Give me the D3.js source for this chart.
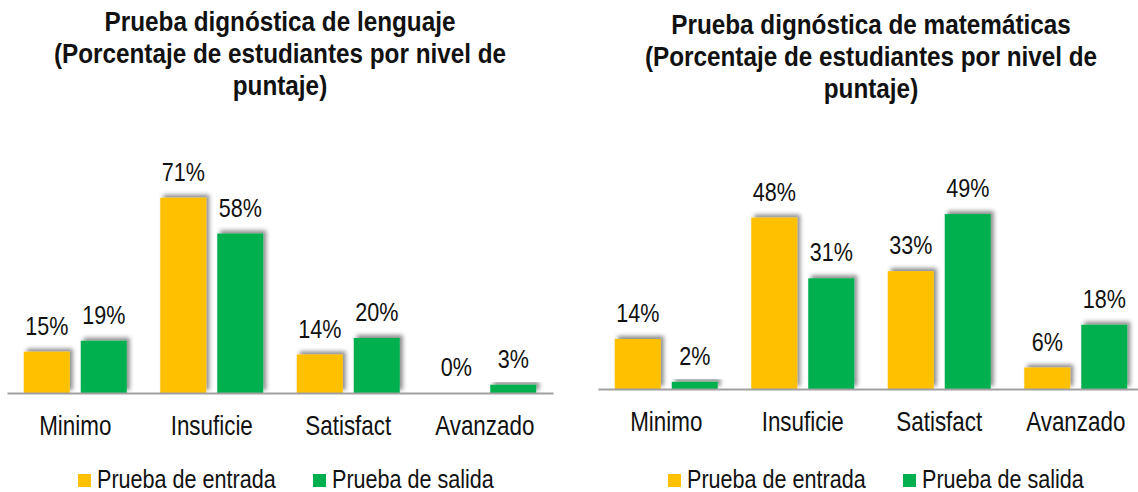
<!DOCTYPE html>
<html>
<head>
<meta charset="UTF-8">
<title>Prueba dignóstica</title>
<script src="https://d3js.org/d3.v7.min.js"></script>
<style>
    body {
        margin: 0;
        background: #fff;
    }
    text {
        font-family: "Liberation Sans", Arial, sans-serif;
        fill: #111;
    }
    .titulo {
        font-weight: bold;
        font-size: 27px;
    }
</style>
</head>
<body>
<svg id="main" width="1138" height="492"></svg>
<script>
    // datos
    var categorias = ["Minimo", "Insuficie", "Satisfact", "Avanzado"];
    var series = ["Prueba de entrada", "Prueba de salida"];
    var lenguajeEntrada = [15, 71, 14, 0];
    var lenguajeSalida = [19, 58, 20, 3];
    var matematicasEntrada = [14, 48, 33, 6];
    var matematicasSalida = [2, 31, 49, 18];
    var colores = ["#FFC000", "#00B050"];

    // la fuente del original es estrecha: se comprime en horizontal
    var estrecho = 0.83;

    var svg = d3.select("#main");

    var defs = svg.append("defs");
    defs.append("filter")
        .attr("id", "sombra")
        .attr("x", "-30%").attr("y", "-30%")
        .attr("width", "160%").attr("height", "160%")
        .append("feDropShadow")
        .attr("dx", 3).attr("dy", -3)
        .attr("stdDeviation", 2)
        .attr("flood-color", "#000")
        .attr("flood-opacity", 0.45);

    function grafico(opts) {
        var g = svg.append("g");

        var x0 = d3.scaleBand()
            .domain(categorias)
            .range([opts.x0, opts.x0 + 546]);
        var x1 = d3.scaleBand()
            .domain(series)
            .range([0, x0.bandwidth()])
            .paddingInner(0.193)
            .paddingOuter(0.294);
        var y = d3.scaleLinear()
            .domain([0, 100])
            .range([opts.base, opts.base - opts.escala * 100]);

        // titulo
        var cx = opts.x0 + 273;
        g.append("text")
            .attr("class", "titulo")
            .attr("text-anchor", "middle")
            .attr("transform", "translate(" + cx + "," + opts.tituloY + ") scale(0.9,1)")
            .selectAll("tspan")
            .data(opts.titulo)
            .enter()
            .append("tspan")
            .attr("x", 0)
            .attr("y", function(d, i) { return i * 32; })
            .text(function(d) { return d; });

        var filas = categorias.map(function(c, i) {
            return { cat: c, valores: [opts.entrada[i], opts.salida[i]] };
        });

        var grupos = g.selectAll(".cat")
            .data(filas)
            .enter()
            .append("g")
            .attr("transform", function(d) { return "translate(" + x0(d.cat) + ",0)"; });

        grupos.selectAll("rect")
            .data(function(d) { return d.valores.map(function(v, j) { return { serie: series[j], v: v, j: j }; }); })
            .enter()
            .append("rect")
            .attr("x", function(d) { return x1(d.serie); })
            .attr("y", function(d) { return y(d.v); })
            .attr("width", x1.bandwidth())
            .attr("height", function(d) { return y(0) - y(d.v); })
            .attr("fill", function(d) { return colores[d.j]; })
            .attr("filter", "url(#sombra)");

        grupos.selectAll(".etiqueta")
            .data(function(d) { return d.valores.map(function(v, j) { return { serie: series[j], v: v }; }); })
            .enter()
            .append("text")
            .attr("class", "etiqueta")
            .attr("text-anchor", "middle")
            .attr("font-size", 26)
            .attr("transform", function(d) {
                return "translate(" + (x1(d.serie) + x1.bandwidth() / 2) + "," + (y(d.v) - 17) + ") scale(" + estrecho + ",1)";
            })
            .text(function(d) { return d.v + "%"; });

        // eje
        var eje = g.append("g")
            .attr("transform", "translate(0," + opts.base + ")")
            .call(d3.axisBottom(x0).tickSize(0).tickPadding(23));
        eje.select(".domain")
            .attr("stroke", "#a0a0a0")
            .attr("stroke-width", 2);
        eje.selectAll("text")
            .attr("font-size", 27)
            .attr("font-family", null)
            .attr("fill", "#111")
            .attr("transform", "scale(" + estrecho + ",1)");

        // leyenda
        var ley = g.selectAll(".ley")
            .data(series)
            .enter()
            .append("g")
            .attr("transform", function(d, i) { return "translate(" + (opts.leyenda + i * 235) + ",474)"; });
        ley.append("rect")
            .attr("width", 13)
            .attr("height", 13)
            .attr("fill", function(d, i) { return colores[i]; });
        ley.append("text")
            .attr("font-size", 26)
            .attr("transform", "translate(19,14) scale(" + estrecho + ",1)")
            .text(function(d) { return d; });
    }

    grafico({
        x0: 7,
        base: 393,
        escala: 2.75,
        leyenda: 78,
        tituloY: 31,
        titulo: ["Prueba dignóstica de lenguaje", "(Porcentaje de estudiantes por nivel de", "puntaje)"],
        entrada: lenguajeEntrada,
        salida: lenguajeSalida
    });

    grafico({
        x0: 598,
        base: 389,
        escala: 3.57,
        leyenda: 668,
        tituloY: 34,
        titulo: ["Prueba dignóstica de matemáticas", "(Porcentaje de estudiantes por nivel de", "puntaje)"],
        entrada: matematicasEntrada,
        salida: matematicasSalida
    });
</script>
</body>
</html>
